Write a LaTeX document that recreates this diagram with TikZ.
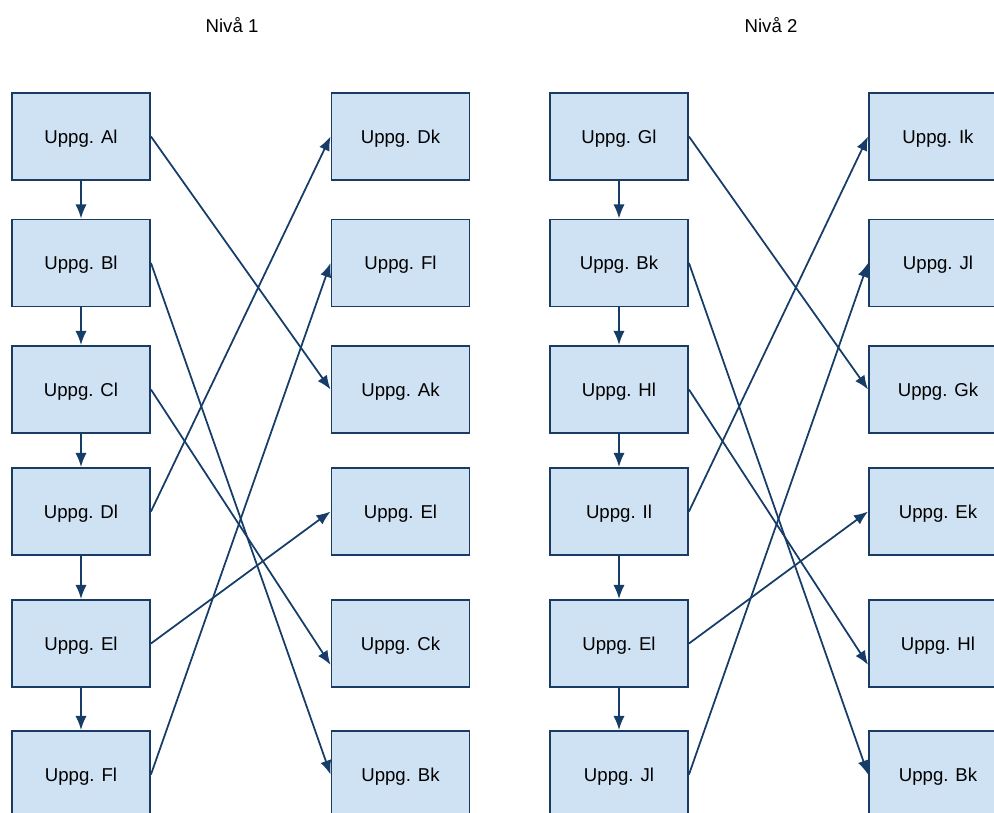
\documentclass[tikz,border=0pt]{standalone}
\usepackage{fontspec}
\setmainfont{Liberation Sans}
\usetikzlibrary{arrows.meta}
\definecolor{boxfill}{RGB}{207,226,243}
\definecolor{boxline}{RGB}{26,60,100}
\definecolor{linkblue}{RGB}{22,60,104}

\begin{document}
\begin{tikzpicture}[x=0.02cm, y=-0.02cm,
  task/.style={draw=boxline, line width=1.1pt, fill=boxfill, minimum width=2.76cm,
    minimum height=1.74cm, inner sep=0pt, text depth=0pt, font=\fontsize{10.6}{12}\selectfont},
  link/.style={draw=linkblue, line width=1pt, -{Latex[length=8pt,width=6.4pt]}},
  level/.style={font=\fontsize{10.6}{12}\selectfont}]
% Frame
\clip (0,0) rectangle (994,813);

% Titles
\node[level] (t1) at (232,25) {Nivå 1};
\node[level] (t2) at (771,25) {Nivå 2};

% Niva 1, left column
\node[task] (a1) at (81,136.5) {Uppg. Al};
\node[task] (a2) at (81,263) {Uppg. Bl};
\node[task] (a3) at (81,389.5) {Uppg. Cl};
\node[task] (a4) at (81,511.5) {Uppg. Dl};
\node[task] (a5) at (81,643.5) {Uppg. El};
\node[task] (a6) at (81,774.5) {Uppg. Fl};

% Niva 1, right column
\node[task] (b1) at (400.5,136.5) {Uppg. Dk};
\node[task] (b2) at (400.5,263) {Uppg. Fl};
\node[task] (b3) at (400.5,389.5) {Uppg. Ak};
\node[task] (b4) at (400.5,511.5) {Uppg. El};
\node[task] (b5) at (400.5,643.5) {Uppg. Ck};
\node[task] (b6) at (400.5,774.5) {Uppg. Bk};

% Niva 2, left column
\node[task] (c1) at (619,136.5) {Uppg. Gl};
\node[task] (c2) at (619,263) {Uppg. Bk};
\node[task] (c3) at (619,389.5) {Uppg. Hl};
\node[task] (c4) at (619,511.5) {Uppg. Il};
\node[task] (c5) at (619,643.5) {Uppg. El};
\node[task] (c6) at (619,774.5) {Uppg. Jl};

% Niva 2, right column
\node[task] (d1) at (938,136.5) {Uppg. Ik};
\node[task] (d2) at (938,263) {Uppg. Jl};
\node[task] (d3) at (938,389.5) {Uppg. Gk};
\node[task] (d4) at (938,511.5) {Uppg. Ek};
\node[task] (d5) at (938,643.5) {Uppg. Hl};
\node[task] (d6) at (938,774.5) {Uppg. Bk};

% Chains
\foreach \i/\j in {1/2,2/3,3/4,4/5,5/6} {
  \draw[link] (a\i.south) -- (a\j.north);
  \draw[link] (c\i.south) -- (c\j.north);
}

% Links, Niva 1
\draw[link] (a1.east) -- (b3.west);
\draw[link] (a2.east) -- (b6.west);
\draw[link] (a3.east) -- (b5.197);
\draw[link] (a4.east) -- (b1.west);
\draw[link] (a5.east) -- (b4.west);
\draw[link] (a6.east) -- (b2.west);

% Links, Niva 2
\draw[link] (c1.east) -- (d3.west);
\draw[link] (c2.east) -- (d6.west);
\draw[link] (c3.east) -- (d5.197);
\draw[link] (c4.east) -- (d1.west);
\draw[link] (c5.east) -- (d4.west);
\draw[link] (c6.east) -- (d2.west);
\end{tikzpicture}
\end{document}
